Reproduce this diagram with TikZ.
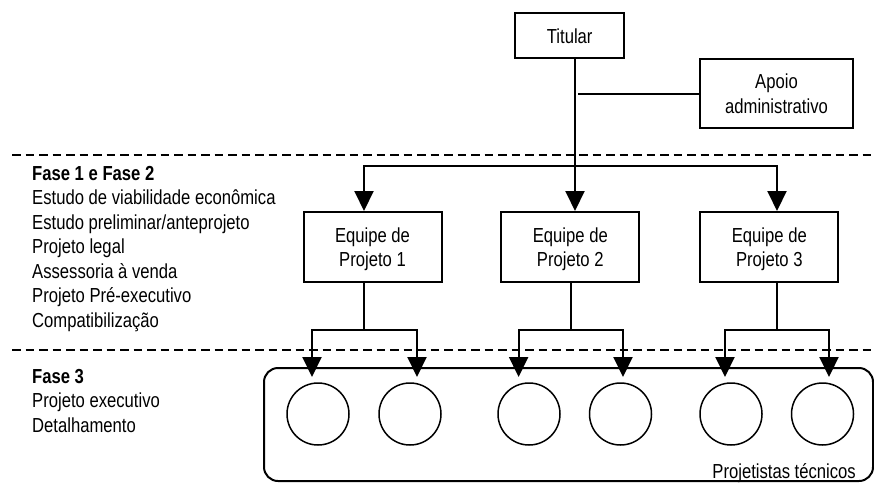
\documentclass[tikz,border=0pt]{standalone}
\usepackage{fontspec}
\setmainfont{Liberation Sans}[FakeStretch=0.82]
\usepackage{tikz}
\usetikzlibrary{arrows.meta,positioning,calc}
\newcommand{\txtsize}{\fontsize{20.3}{24.5}\selectfont}

\begin{document}
\begin{tikzpicture}[
  x=1pt, y=-1pt,
  node font=\txtsize,
  box/.style={draw, line width=2pt, minimum width=138pt, minimum height=70pt,
              align=center, inner sep=0pt, text depth=0pt},
  member/.style={draw, circle, line width=1.5pt, minimum size=62pt, inner sep=0pt},
  phase/.style={anchor=base west, inner sep=0pt},
  head/.style={phase, font=\bfseries},
  sep/.style={line width=2pt, dash pattern=on 8.5pt off 5pt},
  link/.style={line width=2pt},
  >={Triangle[length=20pt,width=19pt]}
]
  \useasboundingbox (0,0) rectangle (874,482);

  % phase separators
  \coordinate (s1l) at (12,155);
  \coordinate (s1r) at (874,155);
  \coordinate (s2l) at (12,350);
  \coordinate (s2r) at (874,350);
  \draw[sep] (s1l) -- (s1r);
  \draw[sep] (s2l) -- (s2r);

  % phase texts
  \node[head] (f12) at (32,180) {Fase 1 e Fase 2};
  \foreach \txt [count=\i] in {Estudo de viabilidade econômica,
      Estudo preliminar/anteprojeto, Projeto legal, Assessoria à venda,
      Projeto Pré-executivo, Compatibilização}
    \node[phase] (f12-\i) at (32,180+24.5*\i) {\txt};
  \node[head] (f3) at (32,383) {Fase 3};
  \foreach \txt [count=\i] in {Projeto executivo, Detalhamento}
    \node[phase] (f3-\i) at (32,383+24.5*\i) {\txt};

  % boxes
  \node[box, minimum width=109pt, minimum height=45pt] (tit) at (569.7,35.7) {Titular};
  \node[box, minimum width=153pt, minimum height=69pt] (apoio) at (776.5,93.5) {Apoio\\administrativo};
  \node[box] (eq1) at (372.5,247) {Equipe de\\Projeto 1};
  \node[box] (eq2) at (570.3,247) {Equipe de\\Projeto 2};
  \node[box] (eq3) at (769.3,247) {Equipe de\\Projeto 3};

  % technical designers
  \node[draw, line width=2pt, rounded corners=14pt, minimum width=609pt,
        minimum height=113pt, inner sep=0pt] (team) at (568.5,424.5) {};
  \foreach \i/\x in {1/318, 2/410, 3/529, 4/620.5, 5/731, 6/822.5}
    \node[member] (m\i) at (\x,414) {};
  \node[anchor=base east, inner sep=0pt] (teamlbl) at ($(team.south east)+(-18,-4)$) {Projetistas técnicos};

  % upper connectors
  \coordinate (trunk) at (575,166);
  \draw[link] (tit.south -| trunk) -- (trunk);
  \draw[link] ($(trunk |- apoio.west)+(3,0)$) -- (apoio.west);
  \draw[link,->] (trunk) -- (trunk |- eq2.north);
  \draw[link,->] (trunk) -| ($(eq1.north)+(-8.5,0)$);
  \draw[link,->] (trunk) -| ($(eq3.north)+(7.7,0)$);

  % lower connectors
  \foreach \g/\x/\l/\r in {1/364/312/417, 2/571/518.6/623, 3/777/725/829} {
    \coordinate (sub\g) at (\x,330);
    \coordinate (tl\g) at (\l,377);
    \coordinate (tr\g) at (\r,377);
    \draw[link] (eq\g.south -| sub\g) -- (sub\g);
    \draw[link,->] (sub\g) -| (tl\g);
    \draw[link,->] (sub\g) -| (tr\g);
  }
\end{tikzpicture}
\end{document}
